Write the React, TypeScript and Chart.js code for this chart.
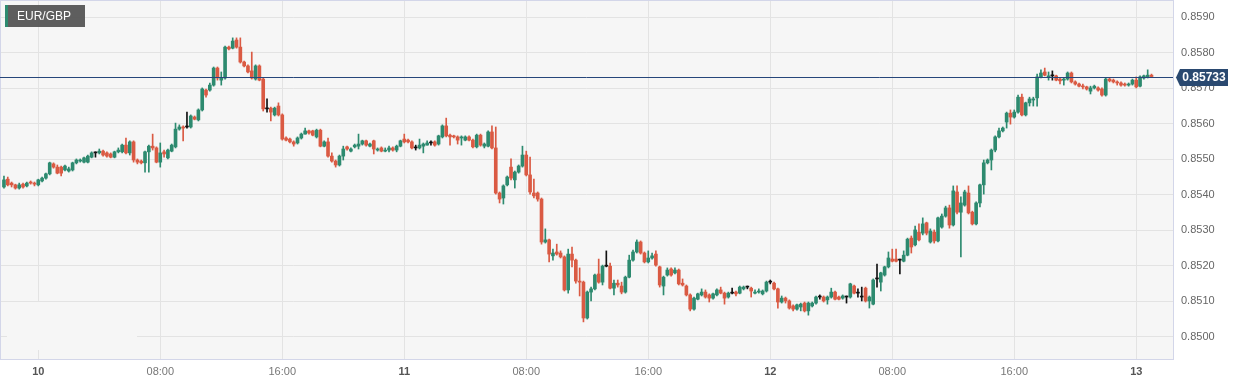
import React, { useEffect, useRef } from 'react';
import { Chart, registerables } from 'chart.js';

Chart.register(...registerables);

const SYMBOL = 'EUR/GBP';
const LAST_PRICE = 0.85733;
// candle timestamps: hours relative to day "10" 00:00, 15-minute candles
const FIRST_CANDLE_HOUR = -2.25;
const CANDLE_HOURS = 0.25;

const OPEN = [
  0.85422, 0.85444, 0.85433, 0.85428, 0.85419, 0.85430, 0.85425, 0.85436, 0.85433, 0.85428,
  0.85439, 0.85447, 0.85459, 0.85487, 0.85478, 0.85478, 0.85470, 0.85467, 0.85470, 0.85490,
  0.85495, 0.85492, 0.85492, 0.85506, 0.85518, 0.85518, 0.85523, 0.85518, 0.85515, 0.85506,
  0.85521, 0.85521, 0.85540, 0.85518, 0.85549, 0.85498, 0.85495, 0.85490, 0.85521, 0.85537,
  0.85532, 0.85492, 0.85521, 0.85504, 0.85523, 0.85535, 0.85585, 0.85591, 0.85591, 0.85591,
  0.85619, 0.85611, 0.85639, 0.85695, 0.85695, 0.85709, 0.85757, 0.85723, 0.85729, 0.85816,
  0.85813, 0.85836, 0.85816, 0.85774, 0.85763, 0.85749, 0.85726, 0.85763, 0.85726, 0.85642,
  0.85644, 0.85625, 0.85650, 0.85625, 0.85560, 0.85557, 0.85549, 0.85546, 0.85560, 0.85571,
  0.85580, 0.85580, 0.85563, 0.85582, 0.85537, 0.85549, 0.85509, 0.85495, 0.85484, 0.85509,
  0.85535, 0.85523, 0.85535, 0.85537, 0.85543, 0.85552, 0.85537, 0.85552, 0.85526, 0.85532,
  0.85523, 0.85526, 0.85532, 0.85526, 0.85537, 0.85557, 0.85554, 0.85549, 0.85532, 0.85532,
  0.85537, 0.85540, 0.85546, 0.85549, 0.85543, 0.85563, 0.85594, 0.85568, 0.85566, 0.85563,
  0.85560, 0.85554, 0.85563, 0.85554, 0.85535, 0.85568, 0.85537, 0.85537, 0.85577, 0.85532,
  0.85405, 0.85391, 0.85428, 0.85478, 0.85442, 0.85464, 0.85481, 0.85512, 0.85456, 0.85405,
  0.85405, 0.85388, 0.85267, 0.85273, 0.85228, 0.85239, 0.85236, 0.85225, 0.85132, 0.85233,
  0.85216, 0.85157, 0.85154, 0.85053, 0.85126, 0.85135, 0.85177, 0.85154, 0.85199, 0.85199,
  0.85137, 0.85151, 0.85143, 0.85126, 0.85168, 0.85216, 0.85239, 0.85267, 0.85236, 0.85211,
  0.85222, 0.85233, 0.85197, 0.85143, 0.85174, 0.85191, 0.85180, 0.85188, 0.85151, 0.85143,
  0.85118, 0.85078, 0.85106, 0.85118, 0.85126, 0.85118, 0.85109, 0.85118, 0.85132, 0.85123,
  0.85112, 0.85123, 0.85126, 0.85123, 0.85135, 0.85140, 0.85137, 0.85123, 0.85126, 0.85121,
  0.85129, 0.85154, 0.85151, 0.85135, 0.85098, 0.85109, 0.85101, 0.85087, 0.85078, 0.85084,
  0.85095, 0.85073, 0.85087, 0.85095, 0.85112, 0.85112, 0.85104, 0.85112, 0.85126, 0.85112,
  0.85109, 0.85112, 0.85112, 0.85143, 0.85123, 0.85112, 0.85137, 0.85101, 0.85092, 0.85163,
  0.85154, 0.85174, 0.85197, 0.85219, 0.85219, 0.85216, 0.85213, 0.85230, 0.85278, 0.85259,
  0.85295, 0.85292, 0.85321, 0.85267, 0.85295, 0.85270, 0.85309, 0.85340, 0.85363, 0.85315,
  0.85408, 0.85351, 0.85371, 0.85405, 0.85351, 0.85318, 0.85377, 0.85428, 0.85490, 0.85498,
  0.85526, 0.85563, 0.85580, 0.85605, 0.85630, 0.85619, 0.85633, 0.85675, 0.85625, 0.85659,
  0.85667, 0.85673, 0.85732, 0.85746, 0.85732, 0.85735, 0.85735, 0.85726, 0.85723, 0.85726,
  0.85743, 0.85718, 0.85712, 0.85706, 0.85704, 0.85692, 0.85701, 0.85701, 0.85698, 0.85681,
  0.85726, 0.85723, 0.85718, 0.85715, 0.85712, 0.85709, 0.85712, 0.85723, 0.85706, 0.85729,
  0.85732, 0.85737,
];

const HIGH = [
  0.85453, 0.85450, 0.85436, 0.85430, 0.85433, 0.85433, 0.85436, 0.85439, 0.85436, 0.85444,
  0.85450, 0.85461, 0.85492, 0.85490, 0.85484, 0.85481, 0.85484, 0.85478, 0.85492, 0.85501,
  0.85501, 0.85506, 0.85512, 0.85521, 0.85521, 0.85529, 0.85526, 0.85521, 0.85518, 0.85523,
  0.85532, 0.85543, 0.85560, 0.85552, 0.85552, 0.85501, 0.85498, 0.85523, 0.85540, 0.85571,
  0.85535, 0.85546, 0.85526, 0.85529, 0.85543, 0.85602, 0.85597, 0.85594, 0.85633, 0.85625,
  0.85622, 0.85642, 0.85701, 0.85698, 0.85715, 0.85760, 0.85760, 0.85746, 0.85819, 0.85819,
  0.85842, 0.85842, 0.85842, 0.85777, 0.85766, 0.85802, 0.85766, 0.85766, 0.85729, 0.85670,
  0.85647, 0.85647, 0.85659, 0.85628, 0.85563, 0.85560, 0.85552, 0.85563, 0.85574, 0.85588,
  0.85582, 0.85582, 0.85585, 0.85585, 0.85552, 0.85560, 0.85518, 0.85498, 0.85512, 0.85537,
  0.85537, 0.85532, 0.85543, 0.85571, 0.85554, 0.85554, 0.85546, 0.85554, 0.85532, 0.85535,
  0.85532, 0.85537, 0.85535, 0.85540, 0.85554, 0.85571, 0.85557, 0.85552, 0.85540, 0.85557,
  0.85546, 0.85552, 0.85552, 0.85552, 0.85568, 0.85597, 0.85616, 0.85571, 0.85568, 0.85566,
  0.85566, 0.85566, 0.85566, 0.85557, 0.85571, 0.85571, 0.85546, 0.85580, 0.85594, 0.85591,
  0.85408, 0.85428, 0.85453, 0.85501, 0.85467, 0.85484, 0.85537, 0.85523, 0.85506, 0.85444,
  0.85408, 0.85391, 0.85304, 0.85275, 0.85247, 0.85261, 0.85242, 0.85228, 0.85247, 0.85253,
  0.85219, 0.85194, 0.85157, 0.85129, 0.85140, 0.85177, 0.85219, 0.85202, 0.85242, 0.85208,
  0.85160, 0.85160, 0.85154, 0.85171, 0.85230, 0.85244, 0.85273, 0.85270, 0.85239, 0.85242,
  0.85236, 0.85242, 0.85199, 0.85171, 0.85194, 0.85194, 0.85194, 0.85191, 0.85163, 0.85146,
  0.85121, 0.85112, 0.85123, 0.85135, 0.85132, 0.85121, 0.85123, 0.85135, 0.85140, 0.85126,
  0.85126, 0.85137, 0.85129, 0.85143, 0.85143, 0.85143, 0.85140, 0.85132, 0.85135, 0.85132,
  0.85157, 0.85160, 0.85154, 0.85137, 0.85115, 0.85112, 0.85104, 0.85090, 0.85092, 0.85095,
  0.85098, 0.85098, 0.85098, 0.85115, 0.85118, 0.85115, 0.85115, 0.85137, 0.85129, 0.85115,
  0.85118, 0.85115, 0.85151, 0.85146, 0.85135, 0.85140, 0.85140, 0.85115, 0.85163, 0.85205,
  0.85182, 0.85199, 0.85239, 0.85247, 0.85247, 0.85219, 0.85242, 0.85278, 0.85284, 0.85312,
  0.85318, 0.85335, 0.85323, 0.85304, 0.85301, 0.85337, 0.85346, 0.85368, 0.85371, 0.85425,
  0.85425, 0.85394, 0.85413, 0.85425, 0.85354, 0.85380, 0.85430, 0.85498, 0.85501, 0.85529,
  0.85566, 0.85588, 0.85591, 0.85633, 0.85639, 0.85639, 0.85681, 0.85684, 0.85661, 0.85675,
  0.85675, 0.85740, 0.85752, 0.85757, 0.85746, 0.85749, 0.85737, 0.85729, 0.85729, 0.85746,
  0.85746, 0.85721, 0.85715, 0.85712, 0.85706, 0.85706, 0.85709, 0.85704, 0.85701, 0.85729,
  0.85729, 0.85726, 0.85721, 0.85718, 0.85715, 0.85715, 0.85726, 0.85732, 0.85735, 0.85737,
  0.85752, 0.85740,
];

const LOW = [
  0.85419, 0.85425, 0.85422, 0.85416, 0.85416, 0.85419, 0.85422, 0.85430, 0.85425, 0.85425,
  0.85436, 0.85444, 0.85456, 0.85475, 0.85459, 0.85453, 0.85467, 0.85464, 0.85467, 0.85487,
  0.85492, 0.85490, 0.85490, 0.85504, 0.85506, 0.85515, 0.85509, 0.85506, 0.85504, 0.85504,
  0.85518, 0.85518, 0.85515, 0.85512, 0.85492, 0.85487, 0.85487, 0.85464, 0.85464, 0.85526,
  0.85490, 0.85478, 0.85506, 0.85501, 0.85521, 0.85532, 0.85582, 0.85552, 0.85588, 0.85588,
  0.85611, 0.85608, 0.85636, 0.85675, 0.85692, 0.85706, 0.85723, 0.85709, 0.85726, 0.85808,
  0.85811, 0.85813, 0.85771, 0.85760, 0.85743, 0.85726, 0.85723, 0.85721, 0.85636, 0.85633,
  0.85608, 0.85622, 0.85622, 0.85554, 0.85552, 0.85546, 0.85537, 0.85543, 0.85557, 0.85571,
  0.85571, 0.85566, 0.85560, 0.85535, 0.85535, 0.85506, 0.85492, 0.85478, 0.85481, 0.85498,
  0.85526, 0.85521, 0.85532, 0.85529, 0.85540, 0.85537, 0.85535, 0.85515, 0.85523, 0.85521,
  0.85521, 0.85521, 0.85523, 0.85521, 0.85535, 0.85546, 0.85546, 0.85529, 0.85526, 0.85529,
  0.85518, 0.85540, 0.85540, 0.85537, 0.85540, 0.85560, 0.85563, 0.85540, 0.85560, 0.85543,
  0.85540, 0.85552, 0.85552, 0.85532, 0.85532, 0.85537, 0.85532, 0.85535, 0.85529, 0.85402,
  0.85377, 0.85374, 0.85425, 0.85442, 0.85419, 0.85461, 0.85478, 0.85453, 0.85402, 0.85391,
  0.85382, 0.85261, 0.85264, 0.85211, 0.85216, 0.85230, 0.85222, 0.85129, 0.85123, 0.85197,
  0.85151, 0.85115, 0.85042, 0.85050, 0.85101, 0.85132, 0.85151, 0.85146, 0.85197, 0.85135,
  0.85118, 0.85140, 0.85121, 0.85123, 0.85166, 0.85213, 0.85236, 0.85233, 0.85208, 0.85208,
  0.85219, 0.85199, 0.85140, 0.85118, 0.85171, 0.85171, 0.85177, 0.85146, 0.85143, 0.85115,
  0.85073, 0.85075, 0.85104, 0.85115, 0.85109, 0.85098, 0.85106, 0.85115, 0.85121, 0.85092,
  0.85109, 0.85121, 0.85115, 0.85121, 0.85132, 0.85135, 0.85112, 0.85121, 0.85123, 0.85118,
  0.85126, 0.85149, 0.85132, 0.85081, 0.85095, 0.85095, 0.85078, 0.85073, 0.85075, 0.85073,
  0.85070, 0.85061, 0.85084, 0.85092, 0.85106, 0.85098, 0.85092, 0.85109, 0.85104, 0.85104,
  0.85106, 0.85095, 0.85109, 0.85121, 0.85112, 0.85101, 0.85098, 0.85081, 0.85090, 0.85140,
  0.85129, 0.85171, 0.85194, 0.85211, 0.85211, 0.85177, 0.85211, 0.85228, 0.85236, 0.85256,
  0.85270, 0.85287, 0.85287, 0.85264, 0.85264, 0.85267, 0.85306, 0.85337, 0.85306, 0.85312,
  0.85346, 0.85225, 0.85368, 0.85346, 0.85315, 0.85315, 0.85366, 0.85402, 0.85487, 0.85470,
  0.85521, 0.85560, 0.85577, 0.85588, 0.85599, 0.85616, 0.85630, 0.85622, 0.85622, 0.85650,
  0.85650, 0.85650, 0.85729, 0.85735, 0.85723, 0.85723, 0.85721, 0.85712, 0.85709, 0.85723,
  0.85715, 0.85709, 0.85704, 0.85698, 0.85695, 0.85684, 0.85698, 0.85692, 0.85678, 0.85678,
  0.85718, 0.85715, 0.85709, 0.85706, 0.85706, 0.85706, 0.85709, 0.85701, 0.85704, 0.85726,
  0.85729, 0.85732,
];

const CLOSE = [
  0.85442, 0.85428, 0.85428, 0.85419, 0.85428, 0.85422, 0.85433, 0.85433, 0.85430, 0.85442,
  0.85447, 0.85459, 0.85490, 0.85478, 0.85461, 0.85461, 0.85481, 0.85473, 0.85490, 0.85498,
  0.85498, 0.85504, 0.85509, 0.85518, 0.85518, 0.85523, 0.85512, 0.85509, 0.85506, 0.85521,
  0.85526, 0.85540, 0.85518, 0.85549, 0.85498, 0.85492, 0.85490, 0.85521, 0.85537, 0.85532,
  0.85492, 0.85518, 0.85515, 0.85526, 0.85540, 0.85585, 0.85591, 0.85588, 0.85591, 0.85622,
  0.85613, 0.85639, 0.85698, 0.85681, 0.85709, 0.85757, 0.85729, 0.85729, 0.85816, 0.85811,
  0.85833, 0.85816, 0.85774, 0.85763, 0.85746, 0.85729, 0.85763, 0.85723, 0.85642, 0.85642,
  0.85633, 0.85644, 0.85625, 0.85557, 0.85554, 0.85549, 0.85543, 0.85560, 0.85571, 0.85580,
  0.85574, 0.85568, 0.85582, 0.85537, 0.85549, 0.85509, 0.85495, 0.85484, 0.85509, 0.85529,
  0.85529, 0.85529, 0.85540, 0.85543, 0.85552, 0.85540, 0.85543, 0.85529, 0.85529, 0.85523,
  0.85526, 0.85532, 0.85526, 0.85537, 0.85552, 0.85549, 0.85549, 0.85532, 0.85532, 0.85540,
  0.85543, 0.85546, 0.85546, 0.85540, 0.85566, 0.85594, 0.85566, 0.85563, 0.85563, 0.85554,
  0.85563, 0.85563, 0.85554, 0.85535, 0.85568, 0.85540, 0.85543, 0.85577, 0.85532, 0.85405,
  0.85388, 0.85425, 0.85450, 0.85447, 0.85464, 0.85481, 0.85512, 0.85456, 0.85408, 0.85397,
  0.85388, 0.85267, 0.85273, 0.85233, 0.85236, 0.85233, 0.85225, 0.85132, 0.85233, 0.85216,
  0.85157, 0.85154, 0.85053, 0.85126, 0.85135, 0.85174, 0.85154, 0.85199, 0.85199, 0.85137,
  0.85151, 0.85146, 0.85126, 0.85168, 0.85216, 0.85239, 0.85267, 0.85236, 0.85211, 0.85222,
  0.85228, 0.85202, 0.85146, 0.85168, 0.85188, 0.85174, 0.85188, 0.85149, 0.85146, 0.85118,
  0.85078, 0.85109, 0.85121, 0.85126, 0.85112, 0.85109, 0.85121, 0.85132, 0.85123, 0.85109,
  0.85123, 0.85123, 0.85121, 0.85140, 0.85140, 0.85140, 0.85129, 0.85126, 0.85129, 0.85129,
  0.85154, 0.85154, 0.85135, 0.85098, 0.85109, 0.85101, 0.85081, 0.85078, 0.85090, 0.85092,
  0.85073, 0.85095, 0.85095, 0.85112, 0.85112, 0.85101, 0.85112, 0.85126, 0.85106, 0.85106,
  0.85115, 0.85112, 0.85149, 0.85123, 0.85123, 0.85112, 0.85101, 0.85112, 0.85160, 0.85163,
  0.85180, 0.85197, 0.85222, 0.85213, 0.85213, 0.85216, 0.85230, 0.85275, 0.85253, 0.85301,
  0.85273, 0.85318, 0.85292, 0.85298, 0.85270, 0.85335, 0.85340, 0.85363, 0.85315, 0.85411,
  0.85351, 0.85377, 0.85408, 0.85349, 0.85318, 0.85377, 0.85428, 0.85490, 0.85498, 0.85526,
  0.85563, 0.85580, 0.85588, 0.85630, 0.85619, 0.85633, 0.85675, 0.85625, 0.85659, 0.85670,
  0.85670, 0.85732, 0.85743, 0.85737, 0.85735, 0.85735, 0.85723, 0.85721, 0.85726, 0.85743,
  0.85718, 0.85712, 0.85706, 0.85704, 0.85698, 0.85701, 0.85706, 0.85695, 0.85681, 0.85726,
  0.85721, 0.85718, 0.85715, 0.85709, 0.85709, 0.85712, 0.85723, 0.85704, 0.85732, 0.85735,
  0.85737, 0.85733,
];

const X_TICK_HOURS = [0, 8, 16, 24, 32, 40, 48, 56, 64, 72];
const X_TICK_LABELS = ['10', '08:00', '16:00', '11', '08:00', '16:00', '12', '08:00', '16:00', '13'];
const Y_TICKS = [0.85, 0.851, 0.852, 0.853, 0.854, 0.855, 0.856, 0.857, 0.858, 0.859];

const FONT = "'Liberation Sans', Arial, Helvetica, sans-serif";
const UP = '#2d8a6f';
const DOWN = '#da5a43';
const FLAT = '#111111';
const PLOT_BG = '#f6f6f6';
const GRID = '#e3e3e3';
const FRAME = '#d3d6e9';
const NAVY_LINE = '#26467a';
const NAVY_TAG = '#2a4970';

const decorPlugin = {
  id: 'decor',
  beforeDraw(chart: any) {
    const { ctx, chartArea: a, width, height } = chart;
    ctx.save();
    ctx.fillStyle = '#ffffff';
    ctx.fillRect(0, 0, width, height);
    ctx.fillStyle = PLOT_BG;
    ctx.fillRect(a.left, a.top, a.right - a.left, a.bottom - a.top);
    ctx.restore();
  },
  beforeDatasetsDraw(chart: any) {
    const { ctx, chartArea: a } = chart;
    ctx.save();
    // faint empty box in the lower-left corner of the plot
    ctx.fillStyle = PLOT_BG;
    ctx.fillRect(a.left + 7, a.bottom - 57, 130, 48);
    ctx.strokeStyle = FRAME;
    ctx.lineWidth = 1;
    ctx.strokeRect(a.left + 0.5, a.top + 0.5, a.right - a.left, a.bottom - a.top);
    ctx.restore();
  },
  afterDatasetsDraw(chart: any) {
    const { ctx, chartArea: a } = chart;
    const yScale = chart.scales.y;
    const y = Math.round(yScale.getPixelForValue(LAST_PRICE)) + 0.5;
    ctx.save();
    ctx.strokeStyle = NAVY_LINE;
    ctx.lineWidth = 1;
    ctx.beginPath();
    ctx.moveTo(a.left, y);
    ctx.lineTo(a.right, y);
    ctx.stroke();
    // price tag
    const h = 8.5;
    ctx.fillStyle = NAVY_TAG;
    ctx.beginPath();
    ctx.moveTo(a.right + 3, y);
    ctx.lineTo(a.right + 7, y - h);
    ctx.lineTo(a.right + 55, y - h);
    ctx.lineTo(a.right + 55, y + h);
    ctx.lineTo(a.right + 7, y + h);
    ctx.closePath();
    ctx.fill();
    ctx.fillStyle = '#ffffff';
    ctx.font = `bold 12px ${FONT}`;
    ctx.textAlign = 'center';
    ctx.textBaseline = 'middle';
    ctx.fillText(LAST_PRICE.toFixed(5), a.right + 31, y + 0.5);
    ctx.restore();
  },
  afterDraw(chart: any) {
    const { ctx } = chart;
    ctx.save();
    ctx.fillStyle = 'rgba(78,78,78,0.9)';
    ctx.fillRect(5, 5, 80, 22);
    ctx.fillStyle = UP;
    ctx.fillRect(5, 5, 3, 22);
    ctx.fillStyle = '#ffffff';
    ctx.font = `12px ${FONT}`;
    ctx.textAlign = 'left';
    ctx.textBaseline = 'middle';
    ctx.fillText(SYMBOL, 17, 16.5);
    ctx.restore();
  },
};

const zeroPadding = (s: any) => {
  s.paddingTop = 0;
  s.paddingBottom = 0;
  s.paddingLeft = 0;
  s.paddingRight = 0;
};

export default function App() {
  const canvasRef = useRef<HTMLCanvasElement | null>(null);

  useEffect(() => {
    const n = Math.min(OPEN.length, HIGH.length, LOW.length, CLOSE.length);
    const xs: number[] = [];
    for (let i = 0; i < n; i++) xs.push(FIRST_CANDLE_HOUR + i * CANDLE_HOURS);
    const colors = xs.map((_, i) =>
      CLOSE[i] > OPEN[i] ? UP : CLOSE[i] < OPEN[i] ? DOWN : FLAT
    );

    const chart = new Chart(canvasRef.current as HTMLCanvasElement, {
      type: 'bar',
      data: {
        datasets: [
          {
            label: 'body',
            data: xs.map((x, i) => ({ x, y: [OPEN[i], CLOSE[i]] })) as any,
            backgroundColor: colors,
            borderWidth: 0,
            barThickness: 3,
            minBarLength: 1,
            grouped: false,
          } as any,
          {
            label: 'wick',
            data: xs.map((x, i) => ({ x, y: [LOW[i], HIGH[i]] })) as any,
            backgroundColor: colors,
            borderWidth: 0,
            barThickness: 1,
            minBarLength: 1,
            grouped: false,
          } as any,
        ],
      },
      options: {
        responsive: false,
        animation: false,
        devicePixelRatio: 1,
        events: [],
        layout: { padding: 0 },
        plugins: {
          legend: { display: false },
          tooltip: { enabled: false },
        },
        scales: {
          x: {
            type: 'linear',
            min: -2.51,
            max: 74.41,
            offset: false,
            afterBuildTicks: (s: any) => {
              s.ticks = X_TICK_HOURS.map((v) => ({ value: v }));
            },
            afterFit: (s: any) => {
              s.height = 26;
              zeroPadding(s);
            },
            grid: { color: GRID, lineWidth: 1, drawTicks: false, offset: false },
            border: { display: false },
            ticks: {
              autoSkip: false,
              maxRotation: 0,
              padding: 6,
              callback: (_v: any, i: number) => X_TICK_LABELS[i],
              color: (c: any) => (X_TICK_LABELS[c.index] || '').includes(':') ? '#777777' : '#555555',
              font: (c: any) => ({
                family: FONT,
                size: 11,
                weight: (X_TICK_LABELS[c.index] || '').includes(':') ? 'normal' : 'bold',
              }),
            },
          } as any,
          y: {
            type: 'linear',
            position: 'right',
            min: 0.849375,
            max: 0.859487,
            beginAtZero: false,
            afterBuildTicks: (s: any) => {
              s.ticks = Y_TICKS.map((v) => ({ value: v }));
            },
            afterFit: (s: any) => {
              s.width = 71;
              zeroPadding(s);
            },
            grid: { color: GRID, lineWidth: 1, drawTicks: false },
            border: { display: false },
            ticks: {
              padding: 8,
              color: '#666666',
              font: { family: FONT, size: 11 },
              callback: (v: any) => Number(v).toFixed(4),
            },
          } as any,
        },
      },
      plugins: [decorPlugin],
    } as any);

    return () => chart.destroy();
  }, []);

  return (
    <div style={{ position: 'absolute', left: 0, top: 0, width: 1244, height: 385 }}>
      <canvas ref={canvasRef} width={1244} height={385} style={{ display: 'block' }} />
    </div>
  );
}
